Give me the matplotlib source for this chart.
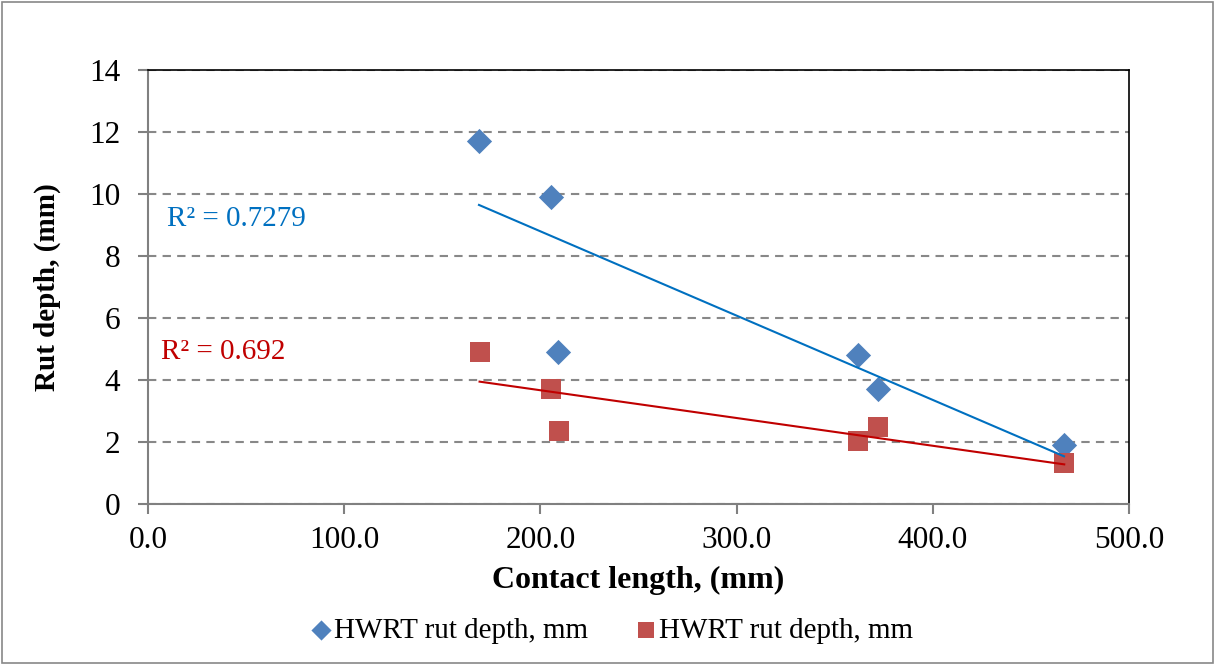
import numpy as np
import matplotlib.pyplot as plt
from matplotlib.patches import Rectangle

plt.rcParams['font.family'] = ['Liberation Serif', 'DejaVu Serif']

# contact length (mm) and rut depth (mm)
x_blue = [168.7, 205.4, 209.0, 361.9, 372.0, 466.9]
y_blue = [11.7, 9.9, 4.9, 4.8, 3.7, 1.9]
x_red = [169.0, 205.4, 209.5, 362.0, 372.0, 467.0]
y_red = [4.9, 3.7, 2.35, 2.03, 2.48, 1.32]
r2_blue = 'R² = 0.7279'
r2_red = 'R² = 0.692'
series_name = 'HWRT rut depth, mm'

fig = plt.figure(figsize=(12.15, 6.65), dpi=100)
ax = fig.add_axes([0.1218, 0.2421, 0.9292 - 0.1218, 0.8947 - 0.2421])

ax.scatter(x_blue, y_blue, marker='D', s=165, color='#4F81BD', zorder=3,
           label=series_name, linewidths=0)
ax.scatter(x_red, y_red, marker='s', s=215, color='#C0504D', zorder=3,
           label=series_name, linewidths=0)

# linear trend lines
for xs, ys, c in [(x_blue, y_blue, '#0070C0'), (x_red, y_red, '#C00000')]:
    k, b = np.polyfit(xs, ys, 1)
    xx = np.array([min(xs), max(xs)])
    ax.plot(xx, k * xx + b, color=c, lw=1.5, zorder=4)

ax.text(9.5, 9.2, r2_blue, color='#0070C0', fontsize=21, va='center')
ax.text(6.5, 4.9, r2_red, color='#C00000', fontsize=21, va='center')

ax.set_xlim(0, 500)
ax.set_ylim(0, 14)
ax.set_xticks(np.arange(0, 501, 100))
ax.set_xticklabels([f'{v:.1f}' for v in np.arange(0, 501, 100)])
ax.set_yticks(np.arange(0, 15, 2))
ax.tick_params(labelsize=22.5, length=7, color='#808080', direction='out', width=1.5)
ax.tick_params(axis='x', pad=9)
ax.tick_params(axis='y', pad=13)
ax.grid(axis='y', color='#888888', ls=(0, (4, 3)), lw=1.5)
ax.set_axisbelow(True)
for side in ['left', 'bottom']:
    ax.spines[side].set_color('#808080')
    ax.spines[side].set_linewidth(1.5)
for side in ['top', 'right']:
    ax.spines[side].set_color('black')
    ax.spines[side].set_linewidth(1.2)

ax.set_xlabel('Contact length, (mm)', fontsize=23, fontweight='bold', labelpad=8)
ax.set_ylabel('Rut depth, (mm)', fontsize=21, fontweight='bold', labelpad=20)

leg = fig.legend(loc='center', bbox_to_anchor=(0.503, 0.052), ncol=2, frameon=False,
                 fontsize=21, handlelength=0.8, handletextpad=0.05, columnspacing=1.6,
                 markerscale=0.8)

fig.patches.append(Rectangle((0.002, 0.003), 0.996, 0.994, transform=fig.transFigure,
                             fill=False, edgecolor='#888888', lw=1.2))

fig.savefig('out.png', dpi=100)
